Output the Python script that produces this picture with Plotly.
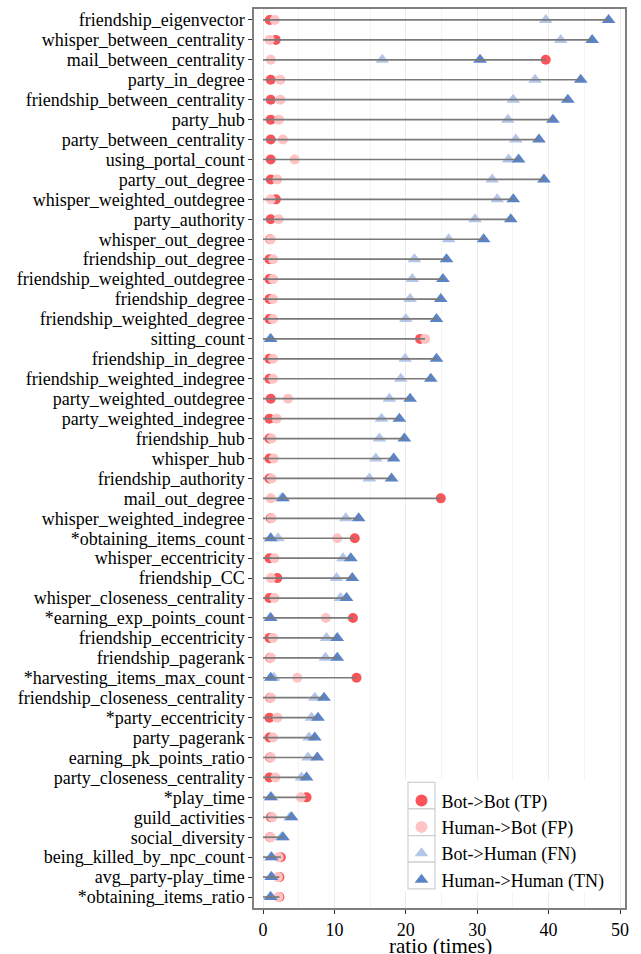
import plotly.graph_objects as go

features = [
    "friendship_eigenvector", "whisper_between_centrality", "mail_between_centrality",
    "party_in_degree", "friendship_between_centrality", "party_hub",
    "party_between_centrality", "using_portal_count", "party_out_degree",
    "whisper_weighted_outdegree", "party_authority", "whisper_out_degree",
    "friendship_out_degree", "friendship_weighted_outdegree", "friendship_degree",
    "friendship_weighted_degree", "sitting_count", "friendship_in_degree",
    "friendship_weighted_indegree", "party_weighted_outdegree", "party_weighted_indegree",
    "friendship_hub", "whisper_hub", "friendship_authority", "mail_out_degree",
    "whisper_weighted_indegree", "*obtaining_items_count", "whisper_eccentricity",
    "friendship_CC", "whisper_closeness_centrality", "*earning_exp_points_count",
    "friendship_eccentricity", "friendship_pagerank", "*harvesting_items_max_count",
    "friendship_closeness_centrality", "*party_eccentricity", "party_pagerank",
    "earning_pk_points_ratio", "party_closeness_centrality", "*play_time",
    "guild_activities", "social_diversity", "being_killed_by_npc_count",
    "avg_party-play_time", "*obtaining_items_ratio",
]

tp = [0.94, 1.78, 39.6, 1.08, 1.08, 1.08, 1.08, 1.08, 1.08, 1.8, 1.08, 1.0, 0.9, 0.9, 0.9,
      0.9, 22.0, 0.9, 0.9, 1.08, 0.9, 0.9, 0.9, 0.9, 24.9, 1.08, 12.85, 0.9, 2.0, 0.9,
      12.6, 0.9, 1.0, 13.1, 1.0, 0.9, 0.9, 1.0, 0.9, 6.1, 1.1, 1.0, 2.5, 2.3, 2.3]
fp = [1.64, 0.94, 1.08, 2.43, 2.43, 2.24, 2.8, 4.44, 2.0, 1.08, 2.2, 1.08, 1.4, 1.4, 1.4,
      1.4, 22.7, 1.4, 1.4, 3.5, 1.9, 1.2, 1.5, 1.2, 1.08, 1.2, 10.4, 1.6, 1.1, 1.6,
      8.8, 1.4, 1.1, 4.8, 1.1, 2.0, 1.4, 1.1, 1.75, 5.3, 1.3, 1.08, 2.2, 2.1, 2.15]
fn = [39.6, 41.7, 16.7, 38.1, 35.05, 34.3, 35.4, 34.4, 32.1, 32.8, 29.7, 26.0, 21.2, 20.9, 20.6,
      20.0, 1.0, 19.9, 19.3, 17.7, 16.6, 16.3, 15.8, 14.9, 2.6, 11.6, 2.1, 11.2, 10.3, 10.85,
      1.0, 8.9, 8.75, 1.5, 7.25, 6.8, 6.45, 6.3, 5.4, 1.2, 3.8, 2.6, 1.1, 1.1, 1.0]
tn = [48.4, 46.1, 30.4, 44.5, 42.7, 40.6, 38.65, 35.8, 39.35, 35.05, 34.7, 30.9, 25.7, 25.2, 24.9,
      24.3, 1.08, 24.3, 23.5, 20.6, 19.1, 19.8, 18.3, 18.0, 2.8, 13.4, 1.08, 12.3, 12.5, 11.7,
      1.08, 10.4, 10.4, 1.08, 8.55, 7.7, 7.25, 7.6, 6.1, 1.08, 4.0, 2.8, 1.2, 1.2, 1.08]

series_names = ["Bot->Bot (TP)", "Human->Bot (FP)", "Bot->Human (FN)", "Human->Human (TN)"]
x_ticks = [0, 10, 20, 30, 40, 50]
x_title = "ratio (times)"

FONT = "Liberation Serif"

fig = go.Figure()

styles = [
    (tp, "circle", "#f8545a", 10),
    (fp, "circle", "#ffc3c3", 10),
    (fn, "triangle-up", "#b3c6e8", 12),
    (tn, "triangle-up", "#5b84c6", 12),
]
for (vals, sym, col, sz), name in zip(styles, series_names):
    fig.add_trace(go.Scatter(
        x=vals, y=features, mode="markers", name=name,
        marker=dict(symbol=sym, color=col, size=sz, line=dict(width=0)),
        legendgroup=name,
    ))

# segments from 0 to the row maximum, drawn above the points
seg_x, seg_y = [], []
for f, a, b, c, d in zip(features, tp, fp, fn, tn):
    seg_x += [0, max(a, b, c, d), None]
    seg_y += [f, f, None]
fig.add_trace(go.Scatter(
    x=seg_x, y=seg_y, mode="lines", showlegend=False,
    line=dict(color="#7a7a7a", width=1.7), hoverinfo="skip",
))

# legend background and key boxes (ggplot-style)
PW, PH, L, B = 371.0, 901.0, 254.0, 908.0
def px(x):
    return (x - L) / PW
def py(y):
    return (B - y) / PH
shapes = [dict(type="rect", xref="paper", yref="paper", layer="above",
               x0=px(405), x1=px(616), y0=py(891), y1=py(780),
               fillcolor="white", line=dict(width=0))]
for i in range(4):
    top = 782 + i * 26.7
    shapes.append(dict(type="rect", xref="paper", yref="paper", layer="above",
                       x0=px(408), x1=px(435), y0=py(top + 26.7), y1=py(top),
                       fillcolor="white", line=dict(color="#d0d0d0", width=1.2)))

fig.update_layout(
    width=641, height=954,
    margin=dict(l=254, r=16, t=7, b=46),
    paper_bgcolor="white", plot_bgcolor="white",
    font=dict(family=FONT, size=18, color="black"),
    showlegend=True,
    shapes=shapes,
    legend=dict(
        x=px(401.5), y=py(782), xanchor="left", yanchor="top",
        bgcolor="rgba(255,255,255,0)", font=dict(size=18, family=FONT),
        tracegroupgap=0, itemsizing="constant",
    ),
    annotations=[dict(text=x_title, xref="paper", yref="paper",
                      x=px(440), y=py(946), xanchor="center", yanchor="middle",
                      showarrow=False, font=dict(size=21, family=FONT))],
    xaxis=dict(
        range=[-1.26, 50.7], tickvals=x_ticks, ticktext=[str(v) for v in x_ticks],
        showgrid=True, gridcolor="#ebebeb", gridwidth=1,
        minor=dict(dtick=5, showgrid=True, gridcolor="#f4f4f4", gridwidth=1),
        zeroline=False, showline=True, linecolor="#7f7f7f", linewidth=1.5, mirror=True,
        ticks="outside", ticklen=4, tickcolor="#333333", tickwidth=1.2,
        tickfont=dict(size=18, family=FONT), ticklabelstandoff=1,
    ),
    yaxis=dict(
        type="category", categoryorder="array", categoryarray=features,
        tickmode="array", tickvals=features, ticktext=features,
        range=[44.55, -0.55], showgrid=False, zeroline=False,
        showline=True, linecolor="#7f7f7f", linewidth=1.5, mirror=True,
        ticks="outside", ticklen=4, tickcolor="#333333", tickwidth=1.2,
        tickfont=dict(size=18, family=FONT),
    ),
)

fig.write_html("out.html", config={"displayModeBar": False},
               post_script="document.body.style.margin='0';")
